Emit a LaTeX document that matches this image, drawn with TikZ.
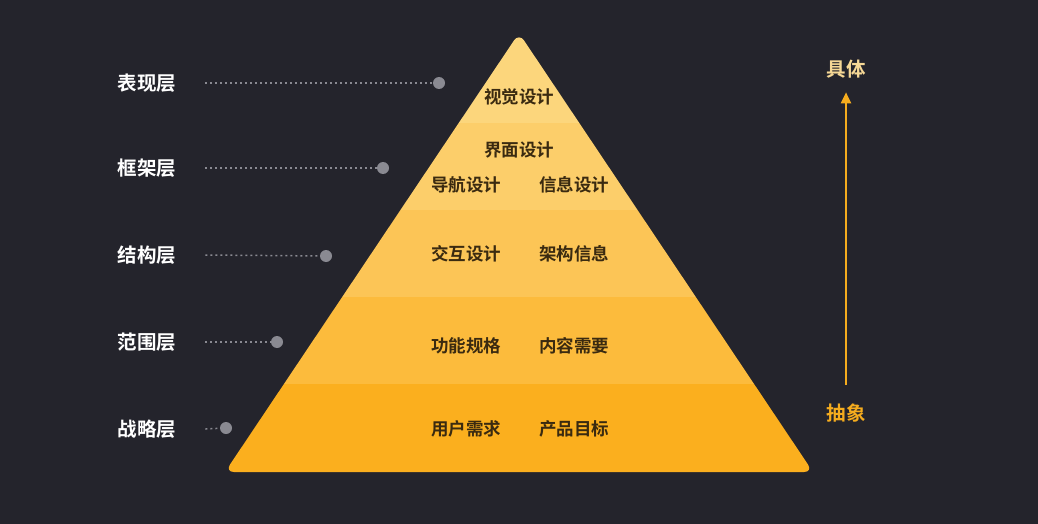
\documentclass[tikz,border=0pt]{standalone}
\usepackage{fontspec}
\newfontfamily\cjk{Noto Sans CJK SC}[BoldFont=* Bold]
\usetikzlibrary{arrows.meta, positioning}
\definecolor{bgdark}{RGB}{36,36,44}
\definecolor{bandA}{RGB}{252,214,124}
\definecolor{bandB}{RGB}{252,206,106}
\definecolor{bandC}{RGB}{252,197,86}
\definecolor{bandD}{RGB}{252,187,60}
\definecolor{bandE}{RGB}{251,175,30}
\definecolor{inktext}{RGB}{58,42,16}
\definecolor{dotgray}{RGB}{138,138,146}
\definecolor{concretecol}{RGB}{246,216,150}
\definecolor{abstractcol}{RGB}{245,172,30}
\tikzstyle{layer} = [font=\cjk\bfseries\fontsize{19.5pt}{19.5pt}\selectfont, text=white, inner sep=1pt]
\tikzstyle{task} = [font=\cjk\bfseries\fontsize{17.5pt}{17.5pt}\selectfont, text=inktext, inner sep=1pt]
\tikzstyle{pin} = [circle, fill=dotgray, minimum size=12pt, inner sep=0pt]
\tikzstyle{dotline} = [dotgray, line width=1.5pt, dash pattern=on 2pt off 3pt]
\tikzstyle{arrow} = [line width=2pt, abstractcol, -{Triangle[width=10pt,length=11pt]}]

\begin{document}
\begin{tikzpicture}[x=1pt, y=-1pt]
%background
\fill[bgdark] (0,0) rectangle (1038,524);
\useasboundingbox (0,0) rectangle (1038,524);
%pyramid bands
\begin{scope}
\clip[rounded corners=9pt] (519,33) -- (225,472) -- (813,472) -- cycle;
\fill[bandA] (200,20) rectangle (840,123);
\fill[bandB] (200,123) rectangle (840,210);
\fill[bandC] (200,210) rectangle (840,297);
\fill[bandD] (200,297) rectangle (840,384);
\fill[bandE] (200,384) rectangle (840,480);
\end{scope}

%layers
\node (lbl1) [layer] at (147,83) {表现层};
\node (lbl2) [layer] at (147,168) {框架层};
\node (lbl3) [layer] at (147,255) {结构层};
\node (lbl4) [layer] at (147,342) {范围层};
\node (lbl5) [layer] at (147,429) {战略层};
\node (dot1) [pin] at (439,83) {};
\node (dot2) [pin] at (383,168) {};
\node (dot3) [pin] at (326,256) {};
\node (dot4) [pin] at (277,342) {};
\node (dot5) [pin] at (226,428) {};

%tasks
\node (visual) [task] at (519,97) {视觉设计};
\node (iface) [task] at (519,150) {界面设计};
\node (nav) [task] at (466,185) {导航设计};
\node (info) [task, right=36pt of nav] {信息设计};
\node (inter) [task] at (466,254) {交互设计};
\node (arch) [task, right=36pt of inter] {架构信息};
\node (func) [task] at (466,346) {功能规格};
\node (content) [task, right=36pt of func] {内容需要};
\node (user) [task] at (466,429) {用户需求};
\node (goal) [task, right=36pt of user] {产品目标};

%scale
\node (concrete) [layer, text=concretecol] at (846,69) {具体};
\node (abstract) [layer, text=abstractcol] at (846,413) {抽象};

%connectors
\draw [dotline] ([xshift=28pt]lbl1.east) -- (dot1);
\draw [dotline] ([xshift=28pt]lbl2.east) -- (dot2);
\draw [dotline] ([xshift=28pt]lbl3.east) -- (dot3);
\draw [dotline] ([xshift=28pt]lbl4.east) -- (dot4);
\draw [dotline] ([xshift=28pt]lbl5.east) -- (dot5);
\draw [arrow, shorten <=18pt, shorten >=13pt] (abstract.north) -- (concrete.south);
\end{tikzpicture}
\end{document}
